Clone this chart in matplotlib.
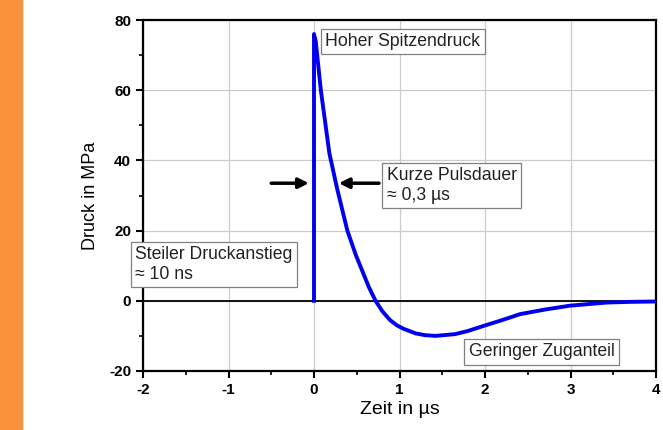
import matplotlib
matplotlib.use("Agg")
import matplotlib.pyplot as plt
from matplotlib.patches import Rectangle
from matplotlib.ticker import MultipleLocator

plt.rcParams['font.family'] = ['Liberation Sans', 'DejaVu Sans']

# pressure pulse (time in µs, pressure in MPa)
zeit = [0, 0, 0.02, 0.08, 0.18, 0.27, 0.39, 0.49, 0.56, 0.64, 0.72, 0.8,
        0.89, 0.97, 1.05, 1.19, 1.3, 1.42, 1.65, 1.8, 1.99, 2.2, 2.41, 2.7,
        2.99, 3.42, 3.7, 4.0]
druck = [0, 76, 74, 60, 42, 32, 20, 13, 8.8, 4, 0, -3,
         -5.5, -7, -8, -9.3, -9.8, -10, -9.5, -8.6, -7.1, -5.5, -3.8, -2.5,
         -1.4, -0.5, -0.3, -0.2]

x_ticks = [-2, -1, 0, 1, 2, 3, 4]
y_ticks = [-20, 0, 20, 40, 60, 80]

fig = plt.figure(figsize=(6.63, 4.30), dpi=100)
fig.patches.append(Rectangle((0, 0), 22 / 663, 1, transform=fig.transFigure,
                             color='#F7923A', zorder=0))
ax = fig.add_axes([143 / 663, 1 - 371 / 430, 513 / 663, 351 / 430])

ax.plot(zeit, druck, color='#0000EE', lw=2.8, solid_joinstyle='round', zorder=4)
ax.axhline(0, color='black', lw=1.3, zorder=3)

ax.set_xlim(-2, 4)
ax.set_ylim(-20, 80)
ax.set_xticks(x_ticks)
ax.set_xticklabels([str(t) for t in x_ticks])
ax.set_yticks(y_ticks)
ax.set_yticklabels([str(t) for t in y_ticks])
ax.xaxis.set_minor_locator(MultipleLocator(0.5))
ax.yaxis.set_minor_locator(MultipleLocator(10))
ax.tick_params(which='major', direction='out', length=5, width=1.5, labelsize=11)
ax.tick_params(which='minor', direction='out', length=3, width=1.2)
for lab in ax.get_xticklabels() + ax.get_yticklabels():
    lab.set_fontweight('bold')
ax.grid(True, which='major', color='#cccccc', lw=0.9, zorder=0)
for s in ax.spines.values():
    s.set_linewidth(1.6)

ax.set_xlabel('Zeit in µs', fontsize=14, labelpad=3)
ax.set_ylabel('Druck in MPa', fontsize=13, labelpad=7)

fs = 12.7
box = dict(boxstyle='square,pad=0.25', fc='white', ec='#808080', lw=0.9)
ax.text(0.13, 73.9, 'Hoher Spitzendruck', fontsize=fs, color='#222222',
        va='center', ha='left', bbox=box, zorder=5)
ax.text(0.85, 32.9, 'Kurze Pulsdauer\n≈ 0,3 µs', fontsize=fs, color='#222222',
        va='center', ha='left', bbox=box, linespacing=1.2, zorder=5)
ax.text(-2.088, 10.3, 'Steiler Druckanstieg\n≈ 10 ns', fontsize=fs, color='#222222',
        va='center', ha='left', bbox=box, linespacing=1.2, zorder=5)
ax.text(1.81, -14.5, 'Geringer Zuganteil', fontsize=fs, color='#222222',
        va='center', ha='left', bbox=box, zorder=5)

arrow = dict(arrowstyle='-|>', color='black', lw=2.5, mutation_scale=15,
             shrinkA=0, shrinkB=0)
ax.annotate('', xy=(-0.06, 33.5), xytext=(-0.5, 33.5), arrowprops=arrow, zorder=5)
ax.annotate('', xy=(0.29, 33.5), xytext=(0.76, 33.5), arrowprops=arrow, zorder=5)

fig.savefig('out.png', dpi=100)
